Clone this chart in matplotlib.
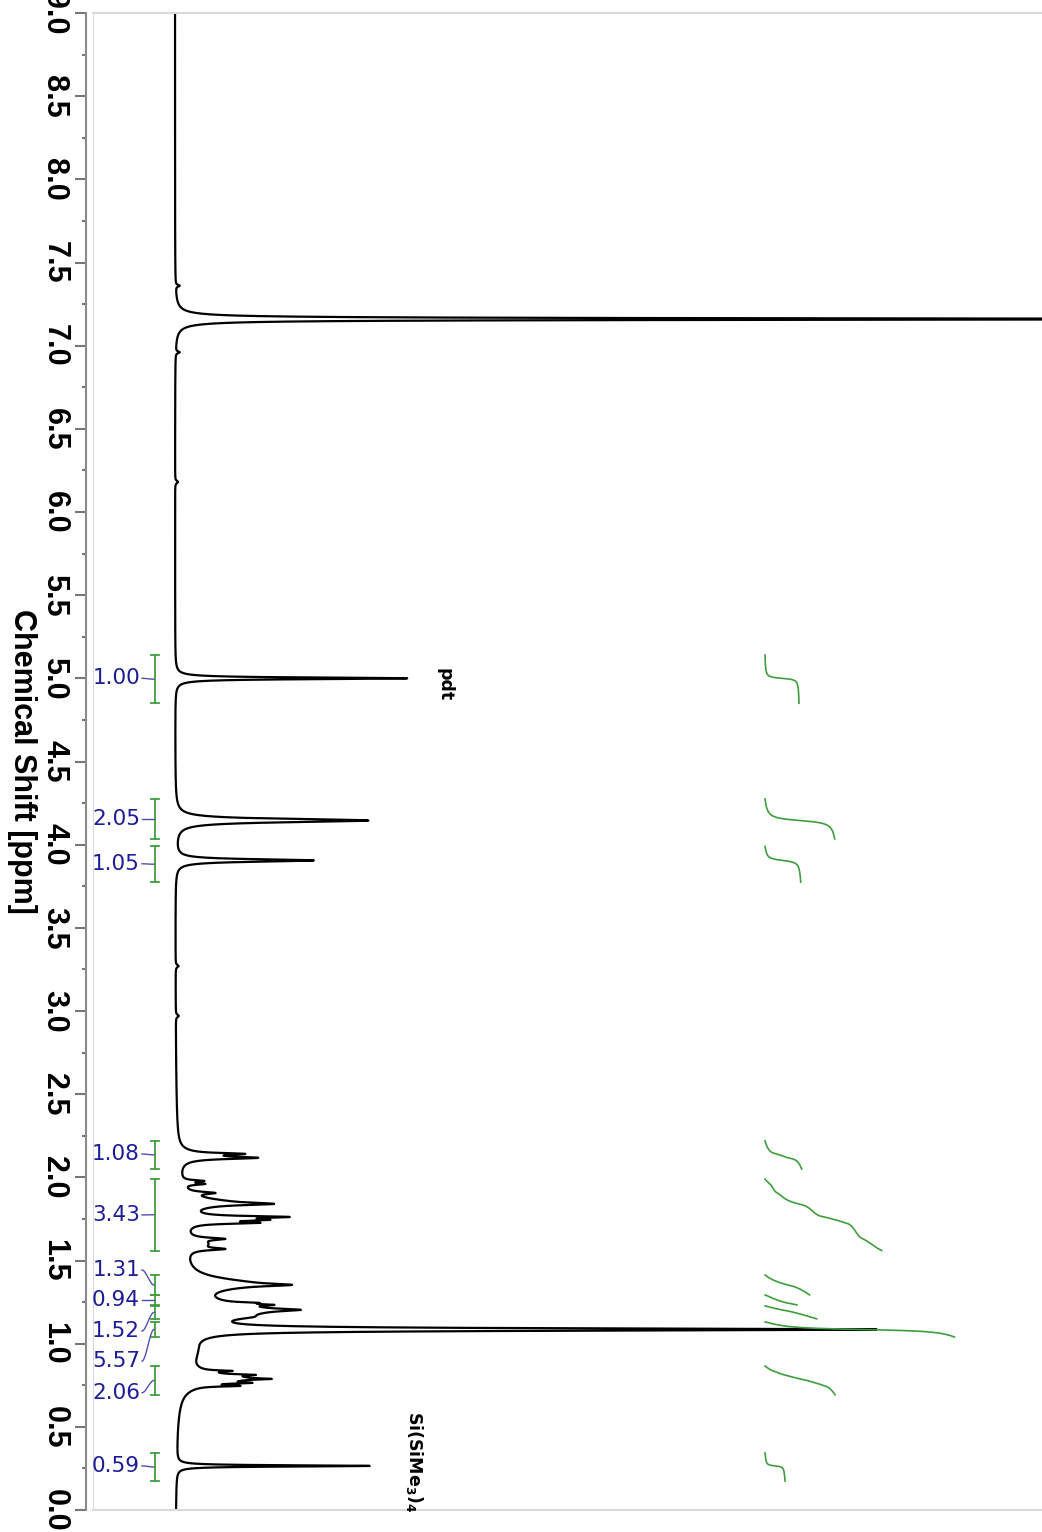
import numpy as np
import matplotlib
matplotlib.use("Agg")
import matplotlib.pyplot as plt

# peak table: position [ppm], height (baseline = 0), half width [ppm]
peak_ppm = [7.160, 7.360, 6.960, 6.180, 5.000, 4.145, 3.905, 3.270, 2.970,
            2.141, 2.117, 2.130, 1.978, 1.960, 1.906, 1.840, 1.850, 1.762, 1.744, 1.726, 1.750,
            1.630, 1.569, 1.600, 1.353, 1.360, 1.245, 1.233, 1.203, 1.200, 1.160,
            1.085, 0.950, 0.836, 0.812, 0.788, 0.764, 0.746, 0.790, 1.500, 0.265]
peak_height = [1150, 4, 4, 3, 232, 193, 138, 3, 3,
               45, 62, 18, 20, 20, 25, 55, 40, 72, 40, 55, 35,
               30, 30, 20, 45, 60, 25, 30, 40, 70, 18,
               680, 12, 25, 28, 28, 30, 35, 60, 5, 193]
peak_width = [0.005, 0.006, 0.006, 0.008, 0.006, 0.012, 0.009, 0.008, 0.008,
              0.006, 0.008, 0.030, 0.006, 0.006, 0.008, 0.008, 0.030, 0.006, 0.006, 0.006, 0.020,
              0.008, 0.008, 0.030, 0.008, 0.040, 0.005, 0.005, 0.008, 0.050, 0.015,
              0.008, 0.100, 0.004, 0.004, 0.004, 0.004, 0.004, 0.035, 0.500, 0.0045]

# integration regions
int_hi = [5.14, 4.275, 3.99, 2.22, 1.99, 1.413, 1.293, 1.227, 1.131, 0.866, 0.343]
int_lo = [4.85, 4.035, 3.775, 2.05, 1.56, 1.293, 1.233, 1.149, 1.040, 0.692, 0.174]
int_values = ["1.00", "2.05", "1.05", "1.08", "3.43", "1.31", "0.94", "1.52", "5.57", "2.06", "0.59"]
int_label_ppm = [5.00, 4.155, 3.885, 2.14, 1.774, 1.443, 1.263, 1.076, 0.895, 0.705, 0.265]

peak_labels = ["pdt", r"Si(SiMe$_\mathbf{3}$)$_\mathbf{4}$"]
peak_label_ppm = [5.06, 0.595]
peak_label_x = [270, 240]

ppm = np.linspace(0, 9, 36001)
spec = np.zeros_like(ppm)
for p, h, w in zip(peak_ppm, peak_height, peak_width):
    spec += h / (1 + ((ppm - p) / w) ** 2)

blue = "#1c1c96"
green = "#3e9e3e"

fig = plt.figure(figsize=(10.42, 15.32), dpi=100)
ax = fig.add_axes([93 / 1042, 22 / 1532, 949 / 1042, 1497 / 1532])
ax.plot(spec, ppm, color="black", lw=1.6)
ax.set_xlim(-82, 867)
ax.set_ylim(0, 9)

# frame
for s in ["top", "bottom"]:
    ax.spines[s].set_color("#d9d9d9")
    ax.spines[s].set_linewidth(1.5)
ax.spines["right"].set_visible(False)
ax.spines["left"].set_position(("outward", 5))
ax.spines["left"].set_color("#8a8a8a")
ax.spines["left"].set_linewidth(1.5)
ax.axvline(-82, color="#d9d9d9", lw=1.5)

ticks = np.arange(0, 9.01, 0.5)
ax.set_yticks(ticks)
ax.set_yticklabels([f"{t:.1f}" for t in ticks], fontsize=22, fontweight="bold",
                   family="Liberation Sans", rotation=-90, va="center")
ax.set_yticks(np.arange(0.25, 9, 0.5), minor=True)
ax.tick_params(axis="y", which="major", length=8, width=1.5, color="#777777", pad=4)
ax.tick_params(axis="y", which="minor", length=3, width=1.5, color="#777777")
ax.set_xticks([])

ax.set_ylabel("Chemical Shift [ppm]", rotation=-90, fontsize=22, fontweight="bold",
              family="Liberation Sans")
ax.yaxis.set_label_coords((22 - 93) / 949, 0.5)
ax.yaxis.label.set_va("center")

# integrals
t = np.linspace(0, 1, 30)
smooth = t * t * (3 - 2 * t)
for hi, lo, val, lab in zip(int_hi, int_lo, int_values, int_label_ppm):
    mid = (hi + lo) / 2
    ax.plot([-20, -20], [lo, hi], color=green, lw=1.3)
    ax.plot([-24, -16], [hi, hi], color=green, lw=1.3)
    ax.plot([-24, -16], [lo, lo], color=green, lw=1.3)
    ax.plot(-33 + 12 * t, lab + (mid - lab) * smooth, color="#5050b0", lw=1.0)
    ax.text(-35, lab, val, color=blue, fontsize=15.5, ha="right", va="center")

    m = (ppm >= lo) & (ppm <= hi)
    seg = spec[m][::-1]
    cum = np.cumsum(seg)
    cum = cum / cum[-1] * float(val) * 34
    ax.plot(590 + cum, ppm[m][::-1], color=green, lw=1.2)

for lab, y, x in zip(peak_labels, peak_label_ppm, peak_label_x):
    ax.text(x, y, lab, rotation=-90, ha="center", va="top", fontsize=12.5,
            fontweight="bold")

fig.savefig("out.png", dpi=100)
